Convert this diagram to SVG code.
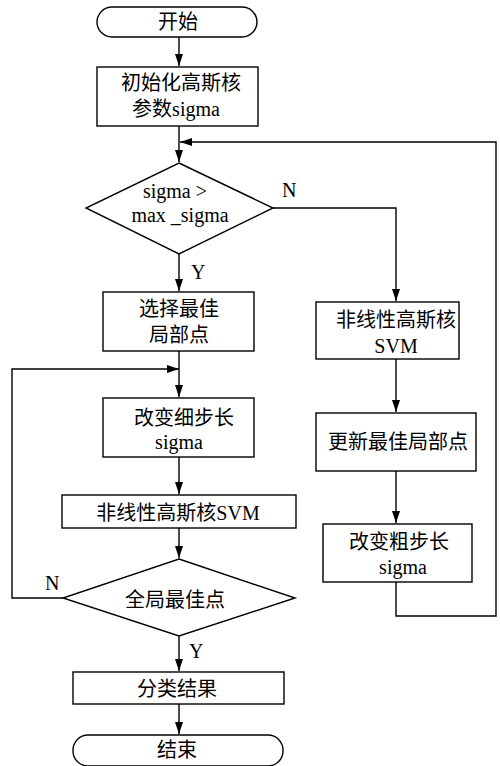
<svg xmlns="http://www.w3.org/2000/svg" width="500" height="766" viewBox="0 0 500 766">
<style>
.s{fill:#fff;stroke:#000;stroke-width:1.4}
.c{fill:none;stroke:#000;stroke-width:1.4}
text{font-family:"Liberation Serif","Noto Sans CJK SC",serif;font-size:20px;fill:#000;text-anchor:middle}
.l{text-anchor:start}
</style>
<defs>
<marker id="a" markerWidth="12" markerHeight="8" refX="12" refY="4" orient="auto" markerUnits="userSpaceOnUse">
<path d="M0,0 L12,4 L0,8 z" fill="#000"/>
</marker>
</defs>
<g id="connectors">
<path class="c" d="M179,37 V66" marker-end="url(#a)"/>
<path class="c" d="M179,126 V162" marker-end="url(#a)"/>
<path class="c" d="M179,254 V291" marker-end="url(#a)"/>
<path class="c" d="M179,351 V397" marker-end="url(#a)"/>
<path class="c" d="M179,457 V494" marker-end="url(#a)"/>
<path class="c" d="M179,528 V558" marker-end="url(#a)"/>
<path class="c" d="M179,636 V671" marker-end="url(#a)"/>
<path class="c" d="M179,704 V734" marker-end="url(#a)"/>
<path class="c" d="M273,208 H396 V301" marker-end="url(#a)"/>
<path class="c" d="M396,359 V412" marker-end="url(#a)"/>
<path class="c" d="M396,471 V523" marker-end="url(#a)"/>
<path class="c" d="M396,582 V616 H496 V142 H180" marker-end="url(#a)"/>
<path class="c" d="M63,598 H12 V369 H179" marker-end="url(#a)"/>
<text class="l" x="282" y="197">N</text>
<text class="l" x="191" y="279">Y</text>
<text class="l" x="45" y="590">N</text>
<text class="l" x="189" y="658">Y</text>
</g>
<g id="start">
<rect class="s" x="97" y="7" width="160" height="30" rx="15" ry="15"/>
<text x="178" y="29">开始</text>
</g>
<g id="init">
<rect class="s" x="97" y="67" width="161" height="59"/>
<text x="181" y="90">初始化高斯核</text>
<text x="176" y="116">参数sigma</text>
</g>
<g id="cond1">
<polygon class="s" points="179,163 273,208 179,254 86,208"/>
<text x="175" y="198">sigma &gt;</text>
<text x="180" y="222">max _sigma</text>
</g>
<g id="select">
<rect class="s" x="103" y="292" width="151" height="59"/>
<text x="179" y="316">选择最佳</text>
<text x="179" y="342">局部点</text>
</g>
<g id="fine">
<rect class="s" x="103" y="398" width="151" height="59"/>
<text x="184" y="425">改变细步长</text>
<text x="179" y="449">sigma</text>
</g>
<g id="svm1">
<rect class="s" x="62" y="495" width="234" height="33"/>
<text x="178" y="520">非线性高斯核SVM</text>
</g>
<g id="cond2">
<polygon class="s" points="179,559 295,598 179,636 63,598"/>
<text x="175" y="607">全局最佳点</text>
</g>
<g id="result">
<rect class="s" x="73" y="672" width="211" height="32"/>
<text x="177" y="696">分类结果</text>
</g>
<g id="end">
<rect class="s" x="73" y="735" width="210" height="31" rx="15" ry="15"/>
<text x="177" y="757">结束</text>
</g>
<g id="svm2">
<rect class="s" x="316" y="302" width="143" height="57"/>
<text x="396" y="327">非线性高斯核</text>
<text x="396" y="353">SVM</text>
</g>
<g id="update">
<rect class="s" x="316" y="413" width="160" height="58"/>
<text x="398" y="449">更新最佳局部点</text>
</g>
<g id="coarse">
<rect class="s" x="323" y="524" width="149" height="58"/>
<text x="399" y="549">改变粗步长</text>
<text x="403" y="574">sigma</text>
</g>
</svg>
